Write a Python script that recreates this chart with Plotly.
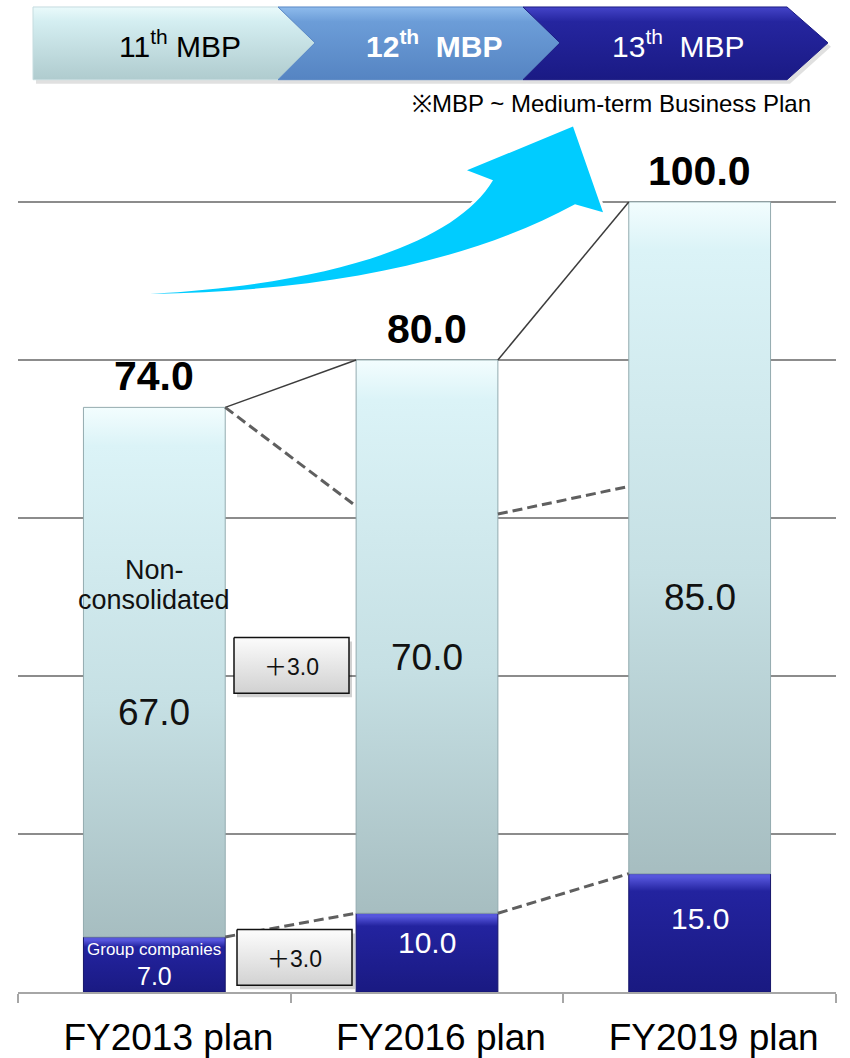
import plotly.graph_objects as go

# ---- data -------------------------------------------------------------
categories = ["FY2013 plan", "FY2016 plan", "FY2019 plan"]
group_companies = [7.0, 10.0, 15.0]
non_consolidated = [67.0, 70.0, 85.0]
totals = [g + n for g, n in zip(group_companies, non_consolidated)]
increments = ["3.0", "3.0"]
plan_labels = ["11<sup>th</sup> MBP",
               "<b>12<sup>th</sup>\u00a0 MBP</b>",
               "13<sup>th</sup>\u00a0 MBP"]
y_ticks = [0, 20, 40, 60, 80, 100, 120]
# levels where the dashed breakdown guides meet the neighbouring bars
guide_start = [74.0, 60.5]
guide_end = [61.5, 64.0]

# ---- layout constants ---------------------------------------------------
W, H = 850, 1058
PL, PR, PT, PB = 18, 836, 44, 996          # plot area in pixels
HALF = 0.26                                  # half bar width (category units)
FONT = "Liberation Sans, Arial, sans-serif"
CJK = "Noto Sans CJK JP"

LIGHT_SCALE = [[0, "#A6BDC0"], [0.45, "#C6E0E4"], [0.93, "#DBF3F7"], [1, "#F2FDFE"]]
DARK_SCALE = [[0, "#191980"], [0.88, "#23239F"], [1, "#5656DC"]]

fig = go.Figure()

# ---- stacked bars (drawn as gradient-filled polygons on the value axes) --
for i, (g, n) in enumerate(zip(group_companies, non_consolidated)):
    x0, x1 = i - HALF, i + HALF
    fig.add_trace(go.Scatter(
        x=[x0, x1, x1, x0, x0], y=[0, 0, g, g, 0],
        mode="lines", fill="toself", line=dict(color="#15156A", width=1),
        fillgradient=dict(type="vertical", colorscale=DARK_SCALE, start=0, stop=g),
        hoverinfo="skip", showlegend=False))
    fig.add_trace(go.Scatter(
        x=[x0, x1, x1, x0, x0], y=[g, g, g + n, g + n, g],
        mode="lines", fill="toself", line=dict(color="#93ABAF", width=1),
        fillgradient=dict(type="vertical", colorscale=LIGHT_SCALE, start=g, stop=g + n),
        hoverinfo="skip", showlegend=False))

# ---- connectors between bars ---------------------------------------------
for i in range(2):
    # solid line joining the totals
    fig.add_trace(go.Scatter(
        x=[i + HALF, i + 1 - HALF], y=[totals[i], totals[i + 1]],
        mode="lines", line=dict(color="#3C3C3C", width=1.5),
        hoverinfo="skip", showlegend=False))
    # dashed guide across the non-consolidated part
    fig.add_trace(go.Scatter(
        x=[i + HALF, i + 1 - HALF], y=[guide_start[i], guide_end[i]],
        mode="lines", line=dict(color="#5F5F5F", width=3, dash="10px,5px"),
        hoverinfo="skip", showlegend=False))
    # dashed line joining the group-company tops
    fig.add_trace(go.Scatter(
        x=[i + HALF, i + 1 - HALF], y=[group_companies[i], group_companies[i + 1]],
        mode="lines", line=dict(color="#5F5F5F", width=3, dash="10px,5px"),
        hoverinfo="skip", showlegend=False))


# ---- pixel overlay helpers --------------------------------------------------
def pixel_poly(xs, ys, scale, line_color, line_width=1, fillcolor=None):
    kw = dict(x=xs + [xs[0]], y=ys + [ys[0]], xaxis="x2", yaxis="y2",
              mode="lines", fill="toself",
              line=dict(color=line_color, width=line_width),
              hoverinfo="skip", showlegend=False)
    if scale is not None:
        kw["fillgradient"] = dict(type="vertical", colorscale=scale,
                                  start=max(ys), stop=min(ys))
    else:
        kw["fillcolor"] = fillcolor
    return go.Scatter(**kw)


# ---- medium-term plan banner ---------------------------------------------
top, mid, bot = 7, 43, 80
banner = [
    ([33, 278, 315, 278, 33], [top, top, mid, bot, bot],
     [[0, "#AFCBCE"], [0.8, "#D4EEF1"], [1, "#EAFAFB"]], "#C5DCDF"),
    ([278, 523, 560, 523, 278, 315], [top, top, mid, bot, bot, mid],
     [[0, "#5584C2"], [0.8, "#6C9DD8"], [1, "#8EBBEC"]], "#5A89C6"),
    ([523, 787, 828, 787, 523, 560], [top, top, mid, bot, bot, mid],
     [[0, "#1A1A84"], [0.8, "#25259F"], [1, "#4444C8"]], "#1C1C85"),
]
for xs, ys, scale, lc in banner:
    fig.add_trace(pixel_poly([x + 3 for x in xs], [y + 4 for y in ys], None,
                             "rgba(0,0,0,0)", 0, "rgba(0,0,0,0.12)"))
for xs, ys, scale, lc in banner:
    fig.add_trace(pixel_poly(xs, ys, scale, lc, 1))

# ---- increment boxes --------------------------------------------------------
boxes = [(234, 640, 349, 696), (237, 933, 352, 989)]
for (x0, y0, x1, y1) in boxes:
    fig.add_trace(pixel_poly([x0 + 3, x1 + 3, x1 + 3, x0 + 3], [y0 + 4, y0 + 4, y1 + 4, y1 + 4],
                             None, "rgba(0,0,0,0)", 0, "rgba(0,0,0,0.18)"))
    fig.add_trace(pixel_poly([x0, x1, x1, x0], [y0, y0, y1, y1],
                             [[0, "#CFCFCF"], [1, "#FAFAFA"]], "#111111", 1.5))

# ---- growth arrow (white halo underneath, cyan body on top) -----------------
arrow_path = ("M 150,295 C 330,285 455,245 493,181 "
              "L 467,171 L 573,127 L 603,213 L 575,205 "
              "C 470,262 330,292 150,295 Z")
shapes = [
    dict(type="path", path=arrow_path, xref="x2", yref="y2",
         fillcolor="white", line=dict(color="white", width=6)),
    dict(type="path", path=arrow_path, xref="x2", yref="y2",
         fillcolor="#00CCFF", line=dict(width=0)),
]

# ---- annotations -----------------------------------------------------------
ann = []
# plan names on the banner
for text, cx, col in zip(plan_labels, [180, 434, 678], ["#000000", "#FFFFFF", "#FFFFFF"]):
    ann.append(dict(x=cx, y=44, xref="x2", yref="y2", text=text, showarrow=False,
                    font=dict(family=FONT, size=30, color=col)))
ann.append(dict(x=813, y=104, xref="x2", yref="y2", xanchor="right",
                text="※MBP ~ Medium-term Business Plan", showarrow=False,
                font=dict(family=FONT, size=24, color="#000000")))

# totals above the bars
for i, t in enumerate(totals):
    ann.append(dict(x=i, y=t, xref="x", yref="y", yanchor="middle", yshift=31,
                    text=f"<b>{t:.1f}</b>", showarrow=False,
                    font=dict(family=FONT, size=41, color="#000000")))

# segment values inside the bars (vertical placement in pixels)
non_label_y = [715, 660, 600]
grp_label_y = [980, 946, 922]
for i in range(3):
    ann.append(dict(x=i, y=non_label_y[i], xref="x", yref="y2",
                    text=f"{non_consolidated[i]:.1f}", showarrow=False,
                    font=dict(family=FONT, size=37, color="#111111")))
    ann.append(dict(x=i, y=grp_label_y[i], xref="x", yref="y2",
                    text=f"{group_companies[i]:.1f}", showarrow=False,
                    font=dict(family=FONT, size=30 if i else 25, color="#FFFFFF")))

# segment names in the first bar
for text, yy in [("Non-", 572), ("consolidated", 602)]:
    ann.append(dict(x=0, y=yy, xref="x", yref="y2", text=text, showarrow=False,
                    font=dict(family=FONT, size=27, color="#111111")))
ann.append(dict(x=0, y=953, xref="x", yref="y2", text="Group companies",
                showarrow=False, font=dict(family=FONT, size=17, color="#FFFFFF")))

# increment box labels
for (x0, y0, x1, y1), text in zip(boxes, increments):
    label = f"<span style='font-family:{CJK}'>＋</span>{text}"
    ann.append(dict(x=(x0 + x1) / 2, y=(y0 + y1) / 2, xref="x2", yref="y2",
                    text=label, showarrow=False,
                    font=dict(family=FONT, size=23, color="#111111")))

fig.update_layout(
    width=W, height=H,
    margin=dict(l=0, r=0, t=0, b=0),
    paper_bgcolor="white", plot_bgcolor="rgba(0,0,0,0)",
    showlegend=False,
    shapes=shapes,
    annotations=ann,
    xaxis=dict(domain=[PL / W, PR / W], range=[-0.5, 2.5], anchor="y",
               tickmode="array", tickvals=[0, 1, 2], ticktext=categories,
               ticks="", showgrid=False, zeroline=False,
               showline=True, linecolor="#A6A6A6", linewidth=1.5,
               ticklabelstandoff=12, ticklabelshift=14,
               tickfont=dict(family=FONT, size=37, color="#000000"),
               minor=dict(tickmode="array", tickvals=[-0.5, 0.5, 1.5, 2.5],
                          ticks="outside", ticklen=9, tickwidth=1.5,
                          tickcolor="#A6A6A6", showgrid=False)),
    yaxis=dict(domain=[(H - PB) / H, (H - PT) / H], range=[0, 120], anchor="x",
               tickmode="array", tickvals=y_ticks, showticklabels=False,
               showgrid=True, gridcolor="#8C8C8C", gridwidth=1.5,
               zeroline=False, showline=False),
    xaxis2=dict(domain=[0, 1], range=[0, W], anchor="y2", visible=False,
                showgrid=False, zeroline=False),
    yaxis2=dict(domain=[0, 1], range=[H, 0], anchor="x2", visible=False,
                showgrid=False, zeroline=False),
)

fig.write_html("out.html")
